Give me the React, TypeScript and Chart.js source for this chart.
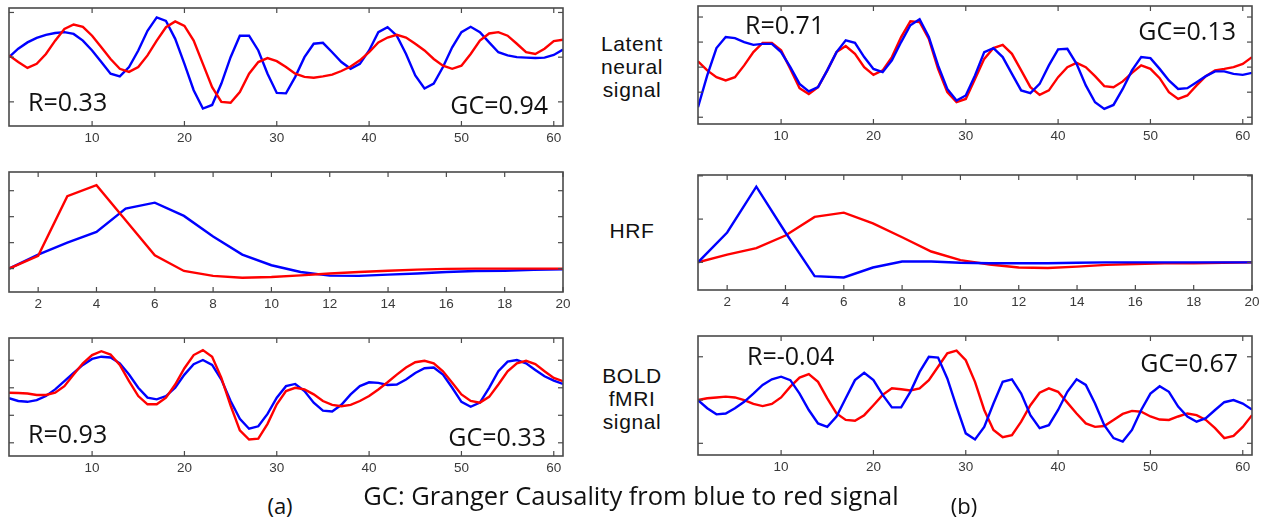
import React, { useEffect, useRef } from "react";
import { Chart, registerables } from "chart.js";
Chart.register(...registerables);

// ---------- data ----------
const signalTicksX = [10, 20, 30, 40, 50, 60];
const hrfTicksX = [2, 4, 6, 8, 10, 12, 14, 16, 18, 20];

// (a) latent neural signal
const aLatentBlue = [0, 0.19, 0.33, 0.43, 0.5, 0.54, 0.56, 0.52, 0.37, 0.15, -0.11, -0.37, -0.43, -0.22, 0.15, 0.59, 0.89, 0.81, 0.41, -0.15, -0.74, -1.15, -1.07, -0.59, 0, 0.48, 0.48, 0.15, -0.37, -0.8, -0.81, -0.44, 0, 0.3, 0.32, 0.11, -0.11, -0.26, -0.15, 0.15, 0.56, 0.67, 0.48, 0.07, -0.41, -0.7, -0.59, -0.22, 0.22, 0.56, 0.68, 0.56, 0.33, 0.11, 0.04, 0, -0.01, -0.02, -0.01, 0.05, 0.17];
const aLatentRed = [0.04, -0.11, -0.24, -0.15, 0.07, 0.37, 0.63, 0.73, 0.68, 0.48, 0.22, -0.04, -0.26, -0.33, -0.22, 0.04, 0.37, 0.67, 0.8, 0.7, 0.37, -0.15, -0.67, -1.0, -1.02, -0.78, -0.37, -0.11, -0.02, -0.09, -0.22, -0.37, -0.44, -0.46, -0.43, -0.39, -0.31, -0.21, -0.07, 0.11, 0.33, 0.44, 0.5, 0.44, 0.3, 0.15, -0.04, -0.19, -0.26, -0.19, 0.07, 0.37, 0.53, 0.56, 0.48, 0.3, 0.11, 0.07, 0.19, 0.36, 0.39];
// (a) HRF
const aHrfBlue = [0, 0.54, 1.0, 1.41, 2.31, 2.54, 2.03, 1.24, 0.54, 0.13, -0.13, -0.27, -0.28, -0.23, -0.19, -0.13, -0.09, -0.08, -0.05, -0.03];
const aHrfRed = [0, 0.49, 2.79, 3.21, 1.86, 0.51, -0.09, -0.28, -0.35, -0.32, -0.26, -0.19, -0.13, -0.08, -0.04, -0.01, 0, 0, 0, 0];
// (a) BOLD
const aBoldBlue = [-0.38, -0.48, -0.51, -0.45, -0.3, -0.06, 0.24, 0.54, 0.83, 1.05, 1.13, 1.1, 0.89, 0.48, 0, -0.36, -0.42, -0.3, 0, 0.48, 0.86, 1.01, 0.83, 0.3, -0.48, -1.13, -1.49, -1.4, -0.95, -0.36, 0.06, 0.14, -0.12, -0.54, -0.83, -0.86, -0.62, -0.24, 0.06, 0.2, 0.18, 0.1, 0.12, 0.3, 0.54, 0.71, 0.74, 0.48, 0, -0.51, -0.69, -0.54, 0, 0.6, 0.95, 1.01, 0.89, 0.65, 0.42, 0.26, 0.14];
const aBoldRed = [-0.18, -0.19, -0.21, -0.26, -0.26, -0.18, 0.06, 0.48, 0.89, 1.19, 1.33, 1.21, 0.83, 0.24, -0.3, -0.6, -0.6, -0.36, 0.12, 0.71, 1.19, 1.37, 1.13, 0.36, -0.65, -1.55, -1.88, -1.85, -1.31, -0.6, -0.12, 0, -0.06, -0.24, -0.48, -0.62, -0.67, -0.62, -0.48, -0.3, -0.06, 0.2, 0.48, 0.74, 0.93, 0.98, 0.89, 0.6, 0.18, -0.24, -0.48, -0.54, -0.33, 0.12, 0.6, 0.89, 0.98, 0.86, 0.6, 0.36, 0.24];

// (b) latent neural signal
const bLatentBlue = [-1.6, -0.33, 0.76, 1.2, 1.16, 1.0, 0.89, 0.93, 0.93, 0.6, 0, -0.67, -0.97, -0.8, -0.13, 0.6, 1.07, 0.97, 0.4, -0.07, -0.2, 0.27, 1.0, 1.67, 1.91, 1.2, 0.07, -0.87, -1.33, -1.13, -0.33, 0.6, 0.76, 0.4, -0.27, -0.93, -1.04, -0.67, 0.07, 0.71, 0.73, 0.13, -0.73, -1.4, -1.67, -1.51, -0.87, -0.13, 0.4, 0.36, -0.07, -0.53, -0.87, -0.84, -0.6, -0.36, -0.17, -0.17, -0.27, -0.31, -0.23];
const bLatentRed = [0.23, -0.13, -0.4, -0.53, -0.4, 0.07, 0.6, 0.97, 0.97, 0.67, -0.07, -0.84, -1.07, -0.8, -0.13, 0.6, 0.84, 0.53, 0, -0.31, -0.13, 0.4, 1.2, 1.83, 1.8, 1.13, -0.07, -1.0, -1.4, -1.27, -0.47, 0.33, 0.76, 0.89, 0.53, -0.13, -0.8, -1.11, -0.93, -0.4, 0, 0.17, 0, -0.36, -0.76, -0.8, -0.57, -0.23, 0.07, -0.07, -0.44, -1.0, -1.27, -1.13, -0.73, -0.36, -0.13, -0.07, 0, 0.13, 0.4];
// (b) HRF
const bHrfBlue = [0, 0.69, 1.75, 0.69, -0.32, -0.35, -0.12, 0.02, 0.02, -0.01, -0.02, -0.02, -0.02, -0.01, 0, 0, 0, 0, 0, 0];
const bHrfRed = [0, 0.18, 0.33, 0.62, 1.05, 1.15, 0.9, 0.58, 0.25, 0.05, -0.05, -0.12, -0.13, -0.1, -0.06, -0.04, -0.02, -0.02, -0.01, 0];
// (b) BOLD
const bBoldBlue = [0, -0.19, -0.33, -0.31, -0.19, -0.04, 0.15, 0.35, 0.48, 0.54, 0.46, 0.15, -0.23, -0.54, -0.62, -0.38, 0.04, 0.46, 0.63, 0.46, 0.12, -0.17, -0.17, 0.19, 0.65, 1.0, 0.98, 0.5, -0.15, -0.77, -0.91, -0.62, -0.08, 0.42, 0.48, 0.15, -0.35, -0.65, -0.58, -0.23, 0.19, 0.48, 0.35, -0.08, -0.58, -0.88, -0.96, -0.69, -0.23, 0.15, 0.32, 0.19, -0.15, -0.38, -0.5, -0.42, -0.23, -0.05, 0, -0.08, -0.22];
const bBoldRed = [0, 0.04, 0.06, 0.08, 0.06, 0, -0.09, -0.14, -0.09, 0.06, 0.31, 0.52, 0.6, 0.42, 0.04, -0.31, -0.46, -0.48, -0.35, -0.12, 0.12, 0.27, 0.25, 0.22, 0.27, 0.46, 0.77, 1.08, 1.14, 0.92, 0.42, -0.23, -0.69, -0.86, -0.81, -0.5, -0.12, 0.17, 0.27, 0.19, -0.06, -0.31, -0.54, -0.62, -0.6, -0.46, -0.32, -0.25, -0.27, -0.38, -0.45, -0.46, -0.38, -0.31, -0.35, -0.46, -0.65, -0.88, -0.83, -0.62, -0.35];

// ---------- drawing helpers ----------
const framePlugin = {
  id: "frame",
  afterDatasetsDraw(chart: any, _args: any, opts: any) {
    const { ctx, chartArea: a, scales } = chart;
    const xs = scales.x;
    const ys = scales.y;
    ctx.save();
    ctx.strokeStyle = "#4a4a4a";
    ctx.lineWidth = 1.6;
    ctx.strokeRect(a.left, a.top, a.right - a.left, a.bottom - a.top);
    ctx.lineWidth = 1.2;
    const L = 5;
    const seg = (x1: number, y1: number, x2: number, y2: number) => {
      ctx.beginPath();
      ctx.moveTo(x1, y1);
      ctx.lineTo(x2, y2);
      ctx.stroke();
    };
    for (const t of opts.xTicks) {
      const px = xs.getPixelForValue(t);
      seg(px, a.bottom, px, a.bottom - L);
      seg(px, a.top, px, a.top + L);
    }
    for (const t of opts.yTicks) {
      const py = ys.getPixelForValue(t);
      seg(a.left, py, a.left + L, py);
      seg(a.right, py, a.right - L, py);
    }
    ctx.fillStyle = "#3a3a3a";
    ctx.font = "13.5px 'Liberation Sans', Arial, sans-serif";
    ctx.textAlign = "center";
    ctx.textBaseline = "top";
    for (const t of opts.xTicks) {
      ctx.fillText(String(t), xs.getPixelForValue(t), a.bottom + 6);
    }
    ctx.restore();
  },
};

type PanelProps = {
  box: [number, number, number, number];
  blue: number[];
  red: number[];
  xMax: number;
  yMin: number;
  yMax: number;
  xTicks: number[];
  yTicks: number[];
  redOnTop: boolean;
};

const PAD_L = 3;
const PAD_T = 3;
const PAD_R = 9;
const PAD_B = 26;

function Panel({ box, blue, red, xMax, yMin, yMax, xTicks, yTicks, redOnTop }: PanelProps) {
  const ref = useRef<HTMLCanvasElement | null>(null);
  const [x0, x1, y0, y1] = box;
  const w = x1 - x0 + PAD_L + PAD_R;
  const h = y1 - y0 + PAD_T + PAD_B;
  useEffect(() => {
    if (!ref.current) return;
    const pts = (arr: number[]) => arr.map((v, i) => ({ x: i + 1, y: v }));
    const chart = new Chart(ref.current, {
      type: "line",
      data: {
        datasets: [
          { data: pts(blue), borderColor: "#0000ff", borderWidth: 2.4, pointRadius: 0, tension: 0, order: redOnTop ? 2 : 1 },
          { data: pts(red), borderColor: "#ff0000", borderWidth: 2.4, pointRadius: 0, tension: 0, order: redOnTop ? 1 : 2 },
        ],
      } as any,
      options: {
        animation: false,
        responsive: false,
        devicePixelRatio: 1,
        layout: { padding: { left: PAD_L, top: PAD_T, right: PAD_R, bottom: PAD_B } },
        plugins: {
          legend: { display: false },
          tooltip: { enabled: false },
          frame: { xTicks, yTicks },
        } as any,
        scales: {
          x: { type: "linear", min: 1, max: xMax, display: false },
          y: { type: "linear", min: yMin, max: yMax, display: false },
        },
      },
      plugins: [framePlugin],
    });
    return () => chart.destroy();
  }, []);
  return (
    <canvas
      ref={ref}
      width={w}
      height={h}
      style={{ position: "absolute", left: x0 - PAD_L, top: y0 - PAD_T, width: w, height: h }}
    />
  );
}

const sans = "'Open Sans', 'Liberation Sans', sans-serif";
const arial = "'Liberation Sans', Arial, sans-serif";

function Label({ x, y, text, size, align, font, lh = 1.2, ls = 0 }: { x: number; y: number; text: string; size: number; align: "left" | "right" | "center"; font: string; lh?: number; ls?: number }) {
  const tx = align === "left" ? "0" : align === "right" ? "-100%" : "-50%";
  return (
    <div
      style={{
        position: "absolute",
        left: x,
        top: y,
        transform: `translate(${tx}, -50%)`,
        fontFamily: font,
        fontSize: size,
        color: "#111",
        whiteSpace: "pre",
        lineHeight: lh,
        letterSpacing: ls,
        textAlign: "center",
      }}
    >
      {text}
    </div>
  );
}

export default function App() {
  return (
    <div style={{ position: "absolute", left: 0, top: 0, width: 1261, height: 519, background: "#fff", overflow: "hidden" }}>
      <Panel box={[9, 563, 8, 126]} blue={aLatentBlue} red={aLatentRed} xMax={61} yMin={-1.54} yMax={1.1} xTicks={signalTicksX} yTicks={[-1, 0, 1]} redOnTop={true} />
      <Panel box={[9, 563, 172, 292]} blue={aHrfBlue} red={aHrfRed} xMax={20} yMin={-0.9} yMax={3.72} xTicks={hrfTicksX} yTicks={[0, 1, 2, 3]} redOnTop={true} />
      <Panel box={[9, 563, 338, 456]} blue={aBoldBlue} red={aBoldRed} xMax={61} yMin={-2.48} yMax={1.81} xTicks={signalTicksX} yTicks={[-2, -1, 0, 1]} redOnTop={true} />
      <Panel box={[698, 1252, 6, 124]} blue={bLatentBlue} red={bLatentRed} xMax={61} yMin={-2.27} yMax={2.44} xTicks={signalTicksX} yTicks={[-2, -1, 0, 1, 2]} redOnTop={false} />
      <Panel box={[698, 1252, 175, 290]} blue={bHrfBlue} red={bHrfRed} xMax={20} yMin={-0.64} yMax={2.02} xTicks={hrfTicksX} yTicks={[0, 1, 2]} redOnTop={false} />
      <Panel box={[698, 1252, 336, 455]} blue={bBoldBlue} red={bBoldRed} xMax={61} yMin={-1.27} yMax={1.48} xTicks={signalTicksX} yTicks={[-1, 0, 1]} redOnTop={false} />

      <Label x={28} y={101} text="R=0.33" size={25} align="left" font={sans} />
      <Label x={548} y={104} text="GC=0.94" size={25} align="right" font={sans} />
      <Label x={745} y={24} text="R=0.71" size={25} align="left" font={sans} />
      <Label x={1236} y={30} text="GC=0.13" size={25} align="right" font={sans} />
      <Label x={28} y={433} text="R=0.93" size={25} align="left" font={sans} />
      <Label x={546} y={436} text="GC=0.33" size={25} align="right" font={sans} />
      <Label x={747} y={355} text="R=-0.04" size={25} align="left" font={sans} />
      <Label x={1238} y={362} text="GC=0.67" size={25} align="right" font={sans} />

      <Label x={632} y={67} text={"Latent\nneural\nsignal"} size={21} lh={1.1} ls={0.6} align="center" font={arial} />
      <Label x={632} y={231} text="HRF" size={21} lh={1.1} ls={0.6} align="center" font={arial} />
      <Label x={632} y={399} text={"BOLD\nfMRI\nsignal"} size={21} lh={1.1} ls={0.6} align="center" font={arial} />

      <Label x={280} y={505} text="(a)" size={22} align="center" font={sans} />
      <Label x={631} y={495} text="GC: Granger Causality from blue to red signal" size={25.5} align="center" font={sans} />
      <Label x={964} y={505} text="(b)" size={22} align="center" font={sans} />
    </div>
  );
}
